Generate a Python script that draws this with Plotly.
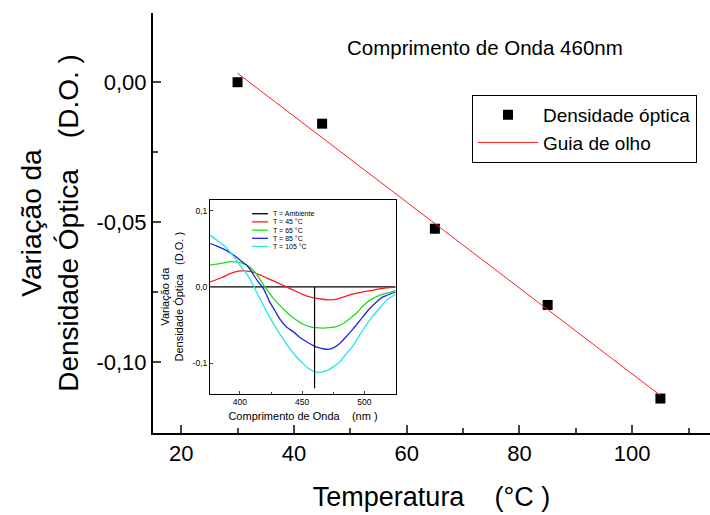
import plotly.graph_objects as go

# ---- main series: optical density change at 460 nm vs temperature ----
temperature_c = [30, 45, 65, 85, 105]
delta_od = [0.0, -0.0148, -0.0523, -0.0795, -0.1129]

# eye guide (straight line through the points)
guide_t = [30, 105]
guide_od = [0.0032, -0.1118]

x_tickvals = [20, 40, 60, 80, 100]
y_tickvals = [0.0, -0.05, -0.10]
y_ticktext = ["0,00", "-0,05", "-0,10"]

# ---- inset: difference spectra ----
wl_45 = [376, 385, 393, 400, 409, 417, 424, 431, 437.5, 444, 451, 456, 461.6, 466, 471,
         477, 483, 489, 494, 499, 504.6, 511, 518, 525]
od_45 = [0.0066, 0.012, 0.018, 0.021, 0.020, 0.015, 0.010, 0.005, 0.0, -0.005, -0.010,
         -0.013, -0.015, -0.016, -0.017, -0.0165, -0.0135, -0.010, -0.008, -0.0065,
         -0.005, -0.003, -0.0013, -0.0003]

wl_65 = [376, 385, 393, 400, 405, 410.7, 415, 420, 425, 429.5, 435, 440, 445, 451, 456,
         461, 467, 472, 477.6, 483, 488, 494, 499, 504, 509.5, 515, 520, 525]
od_65 = [0.0285, 0.031, 0.0333, 0.032, 0.029, 0.022, 0.013, 0.0, -0.011, -0.020, -0.029,
         -0.037, -0.043, -0.049, -0.052, -0.0535, -0.054, -0.0535, -0.052, -0.048,
         -0.042, -0.034, -0.025, -0.018, -0.013, -0.0095, -0.0075, -0.005]

wl_85 = [376, 381, 386.6, 392, 397.3, 401, 405.4, 409, 412, 415.5, 418.8, 421.5, 424,
         428, 432, 437, 443, 448, 453.6, 459, 464, 468, 471, 475, 480, 485, 491, 495,
         499, 504, 509.6, 514, 518, 525]
od_85 = [0.057, 0.054, 0.050, 0.045, 0.039, 0.034, 0.0285, 0.021, 0.013, 0.005, -0.002,
         -0.011, -0.020, -0.031, -0.042, -0.052, -0.059, -0.066, -0.072, -0.077, -0.080,
         -0.0815, -0.082, -0.080, -0.0746, -0.066, -0.055, -0.047, -0.039, -0.029,
         -0.020, -0.014, -0.011, -0.007]

wl_105 = [376, 381, 386.6, 392, 397.3, 401, 405.4, 408, 410.7, 414, 418.8, 424, 429.5,
          435, 440, 445, 451, 456, 461.6, 466, 469.7, 475, 480, 485, 491, 496, 501.6,
          507, 512, 516, 520, 525]
od_105 = [0.068, 0.062, 0.055, 0.046, 0.035, 0.026, 0.0175, 0.010, 0.002, -0.009, -0.024,
          -0.040, -0.055, -0.069, -0.081, -0.091, -0.101, -0.108, -0.112, -0.1118,
          -0.110, -0.105, -0.0987, -0.089, -0.077, -0.064, -0.050, -0.038, -0.0285,
          -0.021, -0.015, -0.010]

ambient_wl = [376, 525]
ambient_od = [0.0, 0.0]

probe_wl = [460, 460]
probe_od = [0.0, -0.133]

inset_x_tickvals = [400, 450, 500]
inset_y_tickvals = [0.1, 0.0, -0.1]
inset_y_ticktext = ["0,1", "0,0", "-0,1"]

inset_labels = ["T = Ambiente", "T = 45 °C", "T = 65 °C", "T = 85 °C", "T = 105 °C"]
inset_colors = ["#000000", "#ff1a1a", "#1adf1a", "#2222dd", "#22e4f2"]

FONT = "Liberation Sans, Arial, Helvetica, sans-serif"
NB = "\u00a0"

fig = go.Figure()

fig.add_trace(go.Scatter(
    x=temperature_c, y=delta_od, mode="markers", name="Densidade óptica",
    marker=dict(symbol="square", size=10, color="black"),
))
fig.add_trace(go.Scatter(
    x=guide_t, y=guide_od, mode="lines", name="Guia de olho",
    line=dict(color="#ff2020", width=1),
))

# inset traces
spectra = [
    (ambient_wl, ambient_od),
    (wl_45, od_45),
    (wl_65, od_65),
    (wl_85, od_85),
    (wl_105, od_105),
]
for (wl, od), color in zip(spectra, inset_colors):
    fig.add_trace(go.Scatter(
        x=wl, y=od, mode="lines", xaxis="x2", yaxis="y2", showlegend=False,
        line=dict(color=color, width=1.3, shape="spline", smoothing=0.6),
    ))
fig.add_trace(go.Scatter(
    x=probe_wl, y=probe_od, mode="lines", xaxis="x2", yaxis="y2", showlegend=False,
    line=dict(color="black", width=1.2),
))

# inset legend drawn with shapes + annotations
legend_y = [0.928, 0.886, 0.843, 0.801, 0.759]
shapes = []
annotations = []
for label, color, ly in zip(inset_labels, inset_colors, legend_y):
    shapes.append(dict(type="line", xref="x2 domain", yref="y2 domain",
                       x0=0.226, x1=0.312, y0=ly, y1=ly,
                       line=dict(color=color, width=1.3)))
    annotations.append(dict(xref="x2 domain", yref="y2 domain", x=0.333, y=ly,
                            text=label, showarrow=False, xanchor="left",
                            yanchor="middle", borderpad=0,
                            font=dict(size=7, color="black")))

annotations.append(dict(xref="paper", yref="paper", x=0.345, y=0.918,
                        text="Comprimento de Onda 460nm", showarrow=False,
                        xanchor="left", yanchor="middle",
                        font=dict(size=20.5, color="black")))

# inset domain (paper fractions of the main plot area)
ix0, ix1 = 0.1023, 0.4363
iy0, iy1 = 0.0939, 0.5553

fig.update_layout(
    width=710, height=515,
    margin=dict(l=153, r=0, t=13, b=82),
    paper_bgcolor="white", plot_bgcolor="white",
    font=dict(family=FONT, color="black"),
    showlegend=True,
    legend=dict(
        x=0.5727, y=0.805, xanchor="left", yanchor="top",
        bordercolor="black", borderwidth=1, bgcolor="white",
        font=dict(size=19), itemwidth=60, tracegroupgap=0,
    ),
    xaxis=dict(
        range=[15, 113.8], tickvals=x_tickvals, ticks="inside", ticklen=8, tickwidth=2,
        showline=True, linewidth=2, linecolor="black", showgrid=False, zeroline=False,
        tickfont=dict(size=22), automargin=False,
        minor=dict(dtick=10, ticks="inside", ticklen=5, tickwidth=2, showgrid=False),
        title=dict(text="Temperatura" + NB * 4 + "(°C )", font=dict(size=27), standoff=22),
    ),
    xaxis3=dict(
        overlaying="x", side="top", anchor="y", matches="x", range=[15, 113.8],
        tickvals=x_tickvals, ticks="inside", ticklen=8, tickwidth=2,
        showline=True, linewidth=2, linecolor="black", showgrid=False, zeroline=False,
        showticklabels=False,
        minor=dict(dtick=10, ticks="inside", ticklen=5, tickwidth=2, showgrid=False),
    ),
    yaxis=dict(
        range=[-0.1252, 0.0247], tickvals=y_tickvals, ticktext=y_ticktext,
        ticks="inside", ticklen=8, tickwidth=2,
        showline=True, linewidth=2, linecolor="black", showgrid=False, zeroline=False,
        tickfont=dict(size=22), automargin=False,
        minor=dict(dtick=0.025, ticks="inside", ticklen=5, tickwidth=2, showgrid=False),
        title=dict(text="Variação da<br>Densidade Óptica" + NB * 4 + "(D.O. )",
                   font=dict(size=28), standoff=10),
    ),
    xaxis2=dict(
        domain=[ix0, ix1], anchor="y2", range=[375.9, 525.5],
        tickvals=inset_x_tickvals, ticks="inside", ticklen=3, tickwidth=1,
        showline=True, mirror=True, linewidth=1, linecolor="black",
        showgrid=False, zeroline=False, tickfont=dict(size=8.5), automargin=False,
        minor=dict(dtick=25, ticks="inside", ticklen=2, tickwidth=1, showgrid=False),
        title=dict(text="Comprimento de Onda" + NB * 4 + "(nm )", font=dict(size=11),
                   standoff=6),
    ),
    yaxis2=dict(
        domain=[iy0, iy1], anchor="x2", range=[-0.140, 0.1144],
        tickvals=inset_y_tickvals, ticktext=inset_y_ticktext,
        ticks="inside", ticklen=3, tickwidth=1,
        showline=True, mirror=True, linewidth=1, linecolor="black",
        showgrid=False, zeroline=False, tickfont=dict(size=8.5), automargin=False,
        title=dict(text="Variação da<br>Densidade Óptica" + NB * 3 + "(D.O. )",
                   font=dict(size=11), standoff=6),
    ),
    shapes=shapes,
    annotations=annotations,
)

fig.write_html("out.html")
